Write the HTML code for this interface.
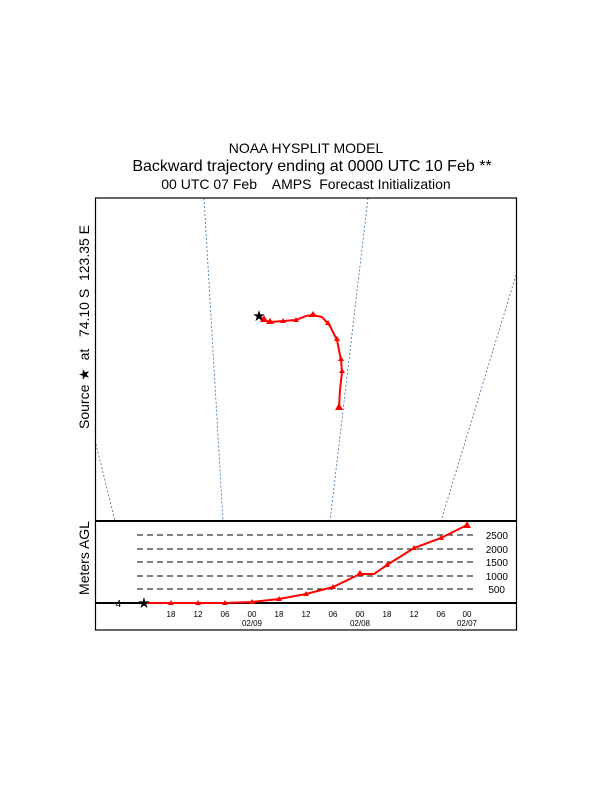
<!DOCTYPE html>
<html><head><style>body{margin:0;background:#fff}svg{display:block}</style></head><body>
<svg width="612" height="792" xmlns="http://www.w3.org/2000/svg" font-family="Liberation Sans, sans-serif">
<rect width="612" height="792" fill="#fff"/>
<text x="306" y="153" font-size="14" text-anchor="middle">NOAA HYSPLIT MODEL</text>
<text x="312" y="171" font-size="16" text-anchor="middle">Backward trajectory ending at 0000 UTC 10 Feb **</text>
<text x="306" y="189" font-size="14" text-anchor="middle" xml:space="preserve">00 UTC 07 Feb    AMPS  Forecast Initialization</text>
<text transform="translate(89,327) rotate(-90)" font-size="14" text-anchor="middle" xml:space="preserve">Source ★  at   74.10 S  123.35 E</text>
<text transform="translate(89,558) rotate(-90)" font-size="14" text-anchor="middle">Meters AGL</text>
<g stroke="#3a6fa0" stroke-width="0.8" stroke-dasharray="2,2" fill="none">
<line x1="204" y1="198" x2="223" y2="521"/>
<line x1="368" y1="198" x2="330" y2="521"/>
<line x1="516" y1="275" x2="441" y2="521"/>
<line x1="95" y1="440" x2="115" y2="521"/>
</g>
<rect x="95.5" y="198" width="421" height="323" fill="none" stroke="#000" stroke-width="1.2"/>
<rect x="95.5" y="521" width="421" height="109" fill="none" stroke="#000" stroke-width="1.2"/>
<line x1="95" y1="521" x2="516" y2="521" stroke="#000" stroke-width="2"/>
<line x1="95" y1="603" x2="516" y2="603" stroke="#000" stroke-width="2"/>
<g stroke="#000" stroke-width="1" stroke-dasharray="6,4">
<line x1="137" y1="535" x2="475" y2="535"/><line x1="137" y1="549" x2="475" y2="549"/>
<line x1="137" y1="562" x2="475" y2="562"/><line x1="137" y1="576" x2="475" y2="576"/>
<line x1="137" y1="589" x2="475" y2="589"/>
</g>
<g font-size="10" text-anchor="end">
<text x="508" y="539">2500</text><text x="508" y="553">2000</text><text x="508" y="566">1500</text>
<text x="508" y="580">1000</text><text x="505" y="593">500</text>
<text x="121" y="607">4</text>
</g>
<g font-size="8" text-anchor="middle">
<text x="171" y="617">18</text><text x="198" y="617">12</text><text x="225" y="617">06</text><text x="252" y="617">00</text>
<text x="279" y="617">18</text><text x="306" y="617">12</text><text x="333" y="617">06</text><text x="360" y="617">00</text>
<text x="387" y="617">18</text><text x="414" y="617">12</text><text x="441" y="617">06</text><text x="467" y="617">00</text>
<text x="252" y="626">02/09</text><text x="360" y="626">02/08</text><text x="467" y="626">02/07</text>
</g>
<polyline fill="none" stroke="#f00" stroke-width="2" points="144,603 171,603 198,603 225,603 252,602 279,599 306,594 333,587 360,574 374,574 387,565 414,548 441,538 467,525"/>
<g fill="#f00">
<path d="M171,600l-3,5h6z"/><path d="M198,600l-3,5h6z"/><path d="M225,600l-3,5h6z"/><path d="M252,599l-3,5h6z"/>
<path d="M279,596l-3,5h6z"/><path d="M306,591l-3,5h6z"/><path d="M333,584l-3,5h6z"/><path d="M360,570l-4,6h8z"/>
<path d="M387,562l-3,5h6z"/><path d="M414,545l-3,5h6z"/><path d="M441,535l-3,5h6z"/><path d="M467,521l-4,7h8z"/>
</g>
<text x="144" y="608" font-size="15" text-anchor="middle">★</text>
<polyline fill="none" stroke="#f00" stroke-width="2" points="259,316 263,320 270,322 283,321 296,320 306,316 313,315 322,317 330,326 337,340 341,360 342,372 340,390 339,408"/>
<g fill="#f00">
<path d="M264,315l-4,7h8z"/><path d="M270,318l-4,6h8z"/><path d="M283,318l-3,5h6z"/><path d="M296,317l-3,5h6z"/>
<path d="M313,311l-4,6h8z"/><path d="M328,320l-3,5h6z"/><path d="M337,336l-3,5h6z"/><path d="M341,356l-3,5h6z"/>
<path d="M342,368l-3,5h6z"/><path d="M339,403l-4,7h8z"/>
</g>
<text x="259" y="321" font-size="15" text-anchor="middle">★</text>
</svg>
</body></html>
